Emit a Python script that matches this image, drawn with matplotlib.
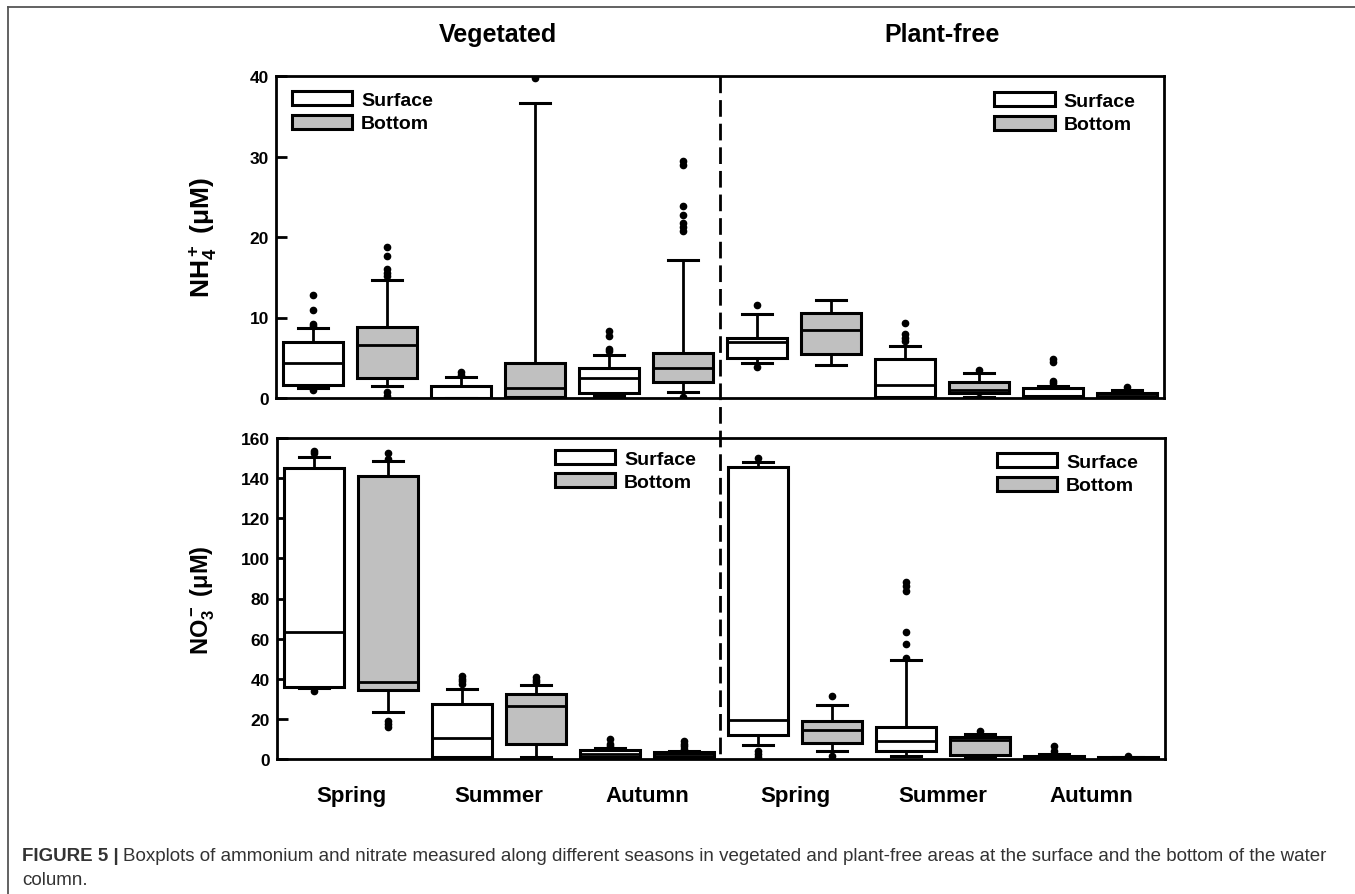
import matplotlib
matplotlib.use("Agg")
import matplotlib.pyplot as plt
from matplotlib.patches import Rectangle
from matplotlib.lines import Line2D

plt.rcParams['font.family'] = ['Liberation Sans', 'DejaVu Sans']
plt.rcParams['mathtext.fontset'] = 'custom'
plt.rcParams['mathtext.rm'] = 'Liberation Sans:bold'
plt.rcParams['mathtext.bf'] = 'Liberation Sans:bold'
plt.rcParams['mathtext.default'] = 'bf'

# ---------------- data ----------------
areas = ["Vegetated", "Plant-free"]
seasons = ["Spring", "Summer", "Autumn", "Spring", "Summer", "Autumn"]
depths = ["Surface", "Bottom"]
# box order: Veg Sp S, Veg Sp B, Veg Su S, Veg Su B, Veg Au S, Veg Au B,
#            PF Sp S, PF Sp B, PF Su S, PF Su B, PF Au S, PF Au B

nh4_q1 = [1.6, 2.45, 0.05, 0.15, 0.6, 1.95, 5.0, 5.5, 0.15, 0.6, 0.2, 0.1]
nh4_med = [4.4, 6.6, 0.05, 1.3, 2.45, 3.7, 6.9, 8.4, 1.6, 1.0, 0.3, 0.3]
nh4_q3 = [7.0, 8.8, 1.45, 4.3, 3.7, 5.6, 7.5, 10.6, 4.9, 1.95, 1.25, 0.6]
nh4_lo = [1.2, 1.45, 0.0, 0.0, 0.2, 0.7, 4.3, 4.1, 0.0, 0.1, 0.05, 0.05]
nh4_hi = [8.7, 14.7, 2.6, 36.6, 5.4, 17.1, 10.4, 12.2, 6.4, 3.1, 1.5, 1.0]
nh4_fliers = [
    [12.8, 10.9, 9.2, 9.0, 0.95],
    [18.7, 17.7, 16.0, 15.5, 15.2, 0.8, 0.3],
    [3.2, 2.9],
    [39.7],
    [8.3, 7.75, 6.1, 5.8, 0.1],
    [29.4, 28.9, 23.9, 22.7, 21.8, 21.2, 20.7, 0.1],
    [11.6, 3.9],
    [],
    [9.3, 8.0, 7.5, 7.1],
    [3.5, 0.05],
    [4.9, 4.5, 2.15, 1.9],
    [1.4],
]

no3_q1 = [36.1, 34.4, 0.8, 7.6, 0.8, 1.2, 12.0, 8.1, 4.0, 2.0, 0.3, 0.2]
no3_med = [63.3, 38.2, 10.3, 26.6, 2.5, 2.3, 19.4, 14.5, 8.8, 9.6, 0.6, 0.5]
no3_q3 = [144.9, 141.1, 27.4, 32.4, 4.65, 3.3, 145.4, 19.1, 15.8, 11.0, 1.7, 0.8]
no3_lo = [35.4, 23.4, 0.0, 1.2, 0.3, 0.5, 7.0, 3.8, 1.3, 0.8, 0.1, 0.1]
no3_hi = [150.7, 148.5, 34.7, 36.9, 5.5, 4.0, 147.9, 27.1, 49.3, 12.3, 2.3, 1.2]
no3_fliers = [
    [153.7, 152.5, 34.1],
    [152.5, 149.5, 19.1, 17.4, 16.1],
    [41.2, 39.9, 38.7, 37.4],
    [40.7, 39.5, 38.2, 0.2],
    [10.0, 7.5, 6.6],
    [8.8, 7.5, 6.3, 5.0],
    [149.9, 4.2, 2.5, 0.8],
    [31.6, 1.3],
    [88.4, 86.4, 83.6, 63.5, 57.2, 50.3],
    [14.1],
    [6.6, 4.2],
    [1.7],
]

nh4_ticks = [0, 10, 20, 30, 40]
no3_ticks = [0, 20, 40, 60, 80, 100, 120, 140, 160]

FILL = {"Surface": "white", "Bottom": "#c0c0c0"}

# ---------------- figure ----------------
W, H = 1355, 895
fig = plt.figure(figsize=(W / 100, H / 100), dpi=100)

def px_axes(left, top, right, bottom):
    return fig.add_axes([left / W, 1 - bottom / H, (right - left) / W, (bottom - top) / H])

ax1 = px_axes(276, 77, 1164, 399)
ax2 = px_axes(277, 439, 1165, 760)

def draw(ax, q1, med, q3, lo, hi, fl, ymax, ticks, leg_anchors):
    stats = []
    for i in range(len(med)):
        stats.append(dict(med=med[i], q1=q1[i], q3=q3[i], whislo=lo[i],
                          whishi=hi[i], fliers=fl[i]))
    pos = list(range(1, len(stats) + 1))
    bp = ax.bxp(stats, positions=pos, widths=0.81, patch_artist=True,
                capwidths=0.4,
                boxprops=dict(linewidth=2.2, edgecolor='black'),
                whiskerprops=dict(linewidth=2.0, color='black'),
                capprops=dict(linewidth=2.2, color='black'),
                medianprops=dict(linewidth=2.0, color='black'),
                flierprops=dict(marker='o', markersize=4.5, markerfacecolor='black',
                                markeredgecolor='black'))
    for i, b in enumerate(bp['boxes']):
        b.set_facecolor(FILL[depths[i % 2]])
    ax.set_xlim(0.5, len(stats) + 0.5)
    ax.set_ylim(0, ymax)
    ax.set_yticks(ticks)
    ax.set_yticklabels([str(t) for t in ticks], fontsize=12.5, fontweight='bold')
    ax.tick_params(axis='y', direction='in', length=8, width=2, pad=5)
    ax.set_xticks([])
    for s in ax.spines.values():
        s.set_linewidth(2.0)
    handles = [Rectangle((0, 0), 1, 1, facecolor=FILL[d], edgecolor='black', linewidth=2.2)
               for d in depths]
    for k, anc in enumerate(leg_anchors):
        leg = ax.legend(handles, depths, loc='upper left', bbox_to_anchor=anc,
                        frameon=False, borderpad=0, borderaxespad=0,
                        handlelength=3.1, handleheight=0.72, handletextpad=0.45,
                        labelspacing=0.3, prop=dict(size=14, weight='bold'))
        if k < len(leg_anchors) - 1:
            ax.add_artist(leg)

draw(ax1, nh4_q1, nh4_med, nh4_q3, nh4_lo, nh4_hi, nh4_fliers, 40, nh4_ticks,
     [(0.018, 0.953), (0.809, 0.95)])
draw(ax2, no3_q1, no3_med, no3_q3, no3_lo, no3_hi, no3_fliers, 160, no3_ticks,
     [(0.313, 0.963), (0.811, 0.953)])

# season labels below bottom panel
for j, s in enumerate(seasons):
    ax2.text(1.5 + 2 * j, -0.115, s, transform=ax2.get_xaxis_transform(),
             ha='center', va='center', fontsize=16, fontweight='bold')

# area titles
for j, a in enumerate(areas):
    ax1.text(3.5 + 6 * j, 1.13, a, transform=ax1.get_xaxis_transform(),
             ha='center', va='center', fontsize=18, fontweight='bold')

# y labels
fig.text(203 / W, 1 - 238 / H, r'NH$_4^+$ (μM)', rotation=90, ha='center', va='center',
         fontsize=19, fontweight='bold')
fig.text(203 / W, 1 - 600 / H, r'NO$_3^-$ (μM)', rotation=90, ha='center', va='center',
         fontsize=17, fontweight='bold')

# dashed separator through both panels
xsep = ax1.transData.transform((6.5, 0))[0] / W
fig.add_artist(Line2D([xsep, xsep], [1 - 77 / H, 1 - 758 / H], transform=fig.transFigure,
                      color='black', linewidth=2.0, linestyle=(0, (6, 2.5))))

# frame lines
fig.add_artist(Line2D([8 / W, 1], [1 - 8 / H, 1 - 8 / H], transform=fig.transFigure,
                      color='#555555', linewidth=1.3))
fig.add_artist(Line2D([8 / W, 8 / W], [1 - 8 / H, 0], transform=fig.transFigure,
                      color='#555555', linewidth=1.3))

# caption
cap_color = '#333333'
cap_size = 13.5
t1 = fig.text(22 / W, 1 - 857 / H, "FIGURE 5 |", ha='left', va='center',
              fontsize=cap_size, fontweight='bold', color=cap_color)
fig.canvas.draw()
bb = t1.get_window_extent(fig.canvas.get_renderer())
fig.text((bb.x1 + 4) / W, 1 - 857 / H,
         "Boxplots of ammonium and nitrate measured along different seasons in vegetated "
         "and plant-free areas at the surface and the bottom of the water",
         ha='left', va='center', fontsize=cap_size, color=cap_color)
fig.text(22 / W, 1 - 881 / H, "column.", ha='left', va='center', fontsize=cap_size,
         color=cap_color)

fig.savefig("out.png", dpi=100)
